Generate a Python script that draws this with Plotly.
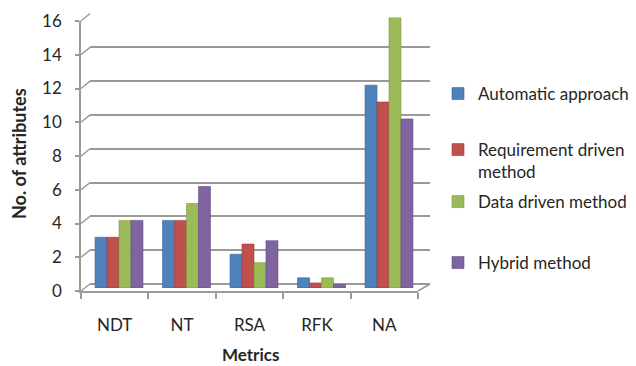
import plotly.graph_objects as go

# ---- data ----
metrics = ["NDT", "NT", "RSA", "RFK", "NA"]
automatic = [3, 4, 2, 0.6, 12]
requirement = [3, 4, 2.6, 0.3, 11]
data_driven = [4, 5, 1.5, 0.6, 16]
hybrid = [4, 6, 2.8, 0.2, 10]
series_names = ["Automatic approach", "Requirement driven<br>method",
                "Data driven method", "Hybrid method"]
y_ticks = list(range(0, 17, 2))

# ---- styling ----
W, H = 636, 366
FONT = "Lato"
TXT = "#262626"
GRID = "#9a9a9a"
colors = ["#4F81BD", "#C0504D", "#9BBB59", "#8064A2"]
edges = ["#3a6597", "#9b3b38", "#7a9742", "#634c83"]


def px(x):
    return x / W


def py(y):
    return 1 - y / H


# pixel geometry of the pseudo-3D frame
BACK_L, BACK_R, BACK_0, BACK_16 = 90, 430, 284, 13.5
FRONT_L, FRONT_R, FRONT_0, FRONT_16 = 81, 418, 291, 21
BAR_L, BAR_R, BAR_0, BAR_16 = 85.25, 422.75, 288, 17.5

fig = go.Figure()

# empty traces so the wall and front-axis subplots get rendered
for xa, ya in (("x", "y"), ("x2", "y2")):
    fig.add_trace(go.Scatter(x=[None], y=[None], xaxis=xa, yaxis=ya,
                             mode="markers", showlegend=False,
                             hoverinfo="skip"))

values = [automatic, requirement, data_driven, hybrid]
legend_ids = ["legend", "legend2", "legend3", "legend4"]
for i, (name, vals) in enumerate(zip(series_names, values)):
    fig.add_trace(go.Bar(
        x=metrics, y=vals, name=name,
        marker=dict(color=colors[i], line=dict(color=edges[i], width=0.6)),
        xaxis="x3", yaxis="y3", showlegend=True,
        legend=legend_ids[i],
    ))

# connectors between the front axis and the back wall
shapes = []
for v in y_ticks:
    yf = FRONT_0 - v * (FRONT_0 - FRONT_16) / 16
    yb = BACK_0 - v * (BACK_0 - BACK_16) / 16
    shapes.append(dict(type="line", xref="paper", yref="paper",
                       x0=px(FRONT_L), y0=py(yf), x1=px(BACK_L), y1=py(yb),
                       line=dict(color=GRID, width=1.5), layer="below"))
# right edge of the floor
shapes.append(dict(type="line", xref="paper", yref="paper",
                   x0=px(FRONT_R), y0=py(FRONT_0), x1=px(BACK_R), y1=py(BACK_0),
                   line=dict(color=GRID, width=1.5), layer="below"))

legend_common = dict(font=dict(family=FONT, size=17, color=TXT),
                     bgcolor="rgba(0,0,0,0)", xanchor="left", yanchor="middle",
                     itemclick=False, visible=True)
legend_y = [94, 161, 202, 263]

fig.update_layout(
    width=W, height=H,
    margin=dict(l=0, r=0, t=0, b=0, autoexpand=False),
    paper_bgcolor="white", plot_bgcolor="rgba(0,0,0,0)",
    font=dict(family=FONT, size=16, color=TXT),
    showlegend=True,
    barmode="group", bargap=0.29, bargroupgap=0,
    # back wall (gridlines)
    xaxis=dict(domain=[px(BACK_L), px(BACK_R)], range=[0, 1], visible=False,
               anchor="y"),
    yaxis=dict(domain=[py(BACK_0), py(BACK_16)], range=[0, 16], anchor="x",
               tickvals=y_ticks, showticklabels=False, ticks="",
               showgrid=True, gridcolor=GRID, gridwidth=1.5,
               zeroline=True, zerolinecolor=GRID, zerolinewidth=1.5,
               showline=False),
    # front axes with tick labels
    xaxis2=dict(domain=[px(FRONT_L), px(FRONT_R)], range=[-0.5, 4.5],
                anchor="y2", tickvals=list(range(len(metrics))),
                ticktext=metrics, ticks="", showgrid=False, zeroline=False,
                showline=True, linecolor=GRID, linewidth=1.5,
                ticklabelstandoff=18,
                tickfont=dict(family=FONT, size=17, color=TXT),
                minor=dict(tickmode="array",
                           tickvals=[k - 0.5 for k in range(len(metrics) + 1)],
                           ticks="outside", ticklen=6, tickcolor=GRID,
                           tickwidth=1.5, showgrid=False)),
    yaxis2=dict(domain=[py(FRONT_0), py(FRONT_16)], range=[0, 16], anchor="x2",
                tickvals=y_ticks, ticks="outside", ticklen=4, tickcolor=GRID,
                tickwidth=1.5, showgrid=False, zeroline=False,
                showline=True, linecolor=GRID, linewidth=1.5,
                ticklabelstandoff=10,
                tickfont=dict(family=FONT, size=17, color=TXT)),
    # bars
    xaxis3=dict(domain=[px(BAR_L), px(BAR_R)], anchor="y3", visible=False,
                type="category", categoryorder="array", categoryarray=metrics),
    yaxis3=dict(domain=[py(BAR_0), py(BAR_16)], range=[0, 16], anchor="x3",
                visible=False),
    legend=dict(x=px(438), y=py(legend_y[0]), **legend_common),
    legend2=dict(x=px(438), y=py(legend_y[1]), valign="top", **legend_common),
    legend3=dict(x=px(438), y=py(legend_y[2]), **legend_common),
    legend4=dict(x=px(438), y=py(legend_y[3]), **legend_common),
    shapes=shapes,
    annotations=[
        dict(text="<b>No. of attributes</b>", x=px(19), y=py(154),
             xref="paper", yref="paper", xanchor="center", yanchor="middle",
             textangle=-90, showarrow=False,
             font=dict(family=FONT, size=18, color=TXT)),
        dict(text="<b>Metrics</b>", x=px(250), y=py(354),
             xref="paper", yref="paper", xanchor="center", yanchor="middle",
             showarrow=False,
             font=dict(family=FONT, size=17, color=TXT)),
    ],
)

fig.write_html("out.html")
